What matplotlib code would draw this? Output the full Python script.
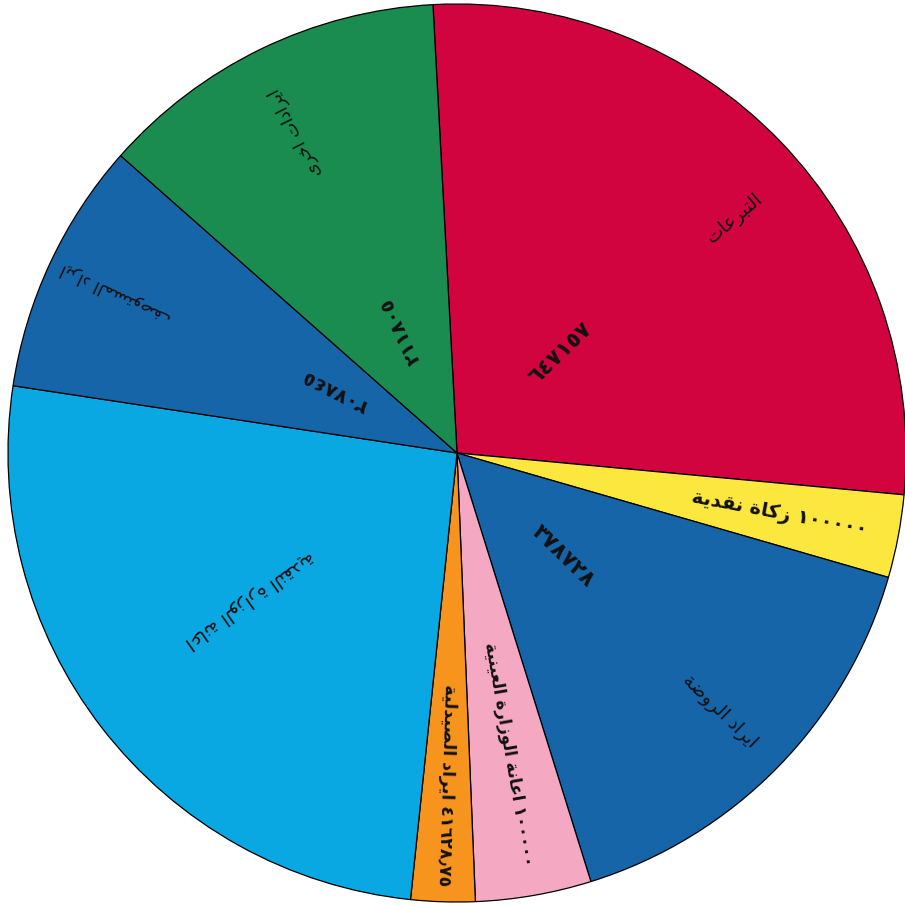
import re
import matplotlib
matplotlib.use("Agg")
import matplotlib.pyplot as plt
import numpy as np

# ---------------- data ----------------
names = ["التبرعات", "زكاة نقدية", "ايراد الروضة", "اعانة الوزارة العينية",
         "ايراد الصيدلية", "اعانة الوزارة النقدية", "ايراد المستوصف", "ايرادات اخرى"]
value_labels = ["٦٤٧١٥٧", "١٠٠٠٠٠", "٣٧٨٧٢٨", "١٠٠٠٠٠", "٤١٦٢٨٫٧٥", "", "٢٠٧٨٤٥", "٢١١٨٠٥"]
# slice sizes as drawn
sizes = [656000, 71600, 377000, 100000, 55300, 617700, 219000, 303000]
colors = ["#D2043F", "#FCE73E", "#1765A9", "#F5A8C2", "#F7941E",
          "#0AA8E2", "#1765A9", "#1A8C4F"]

# ---------------- minimal Arabic shaping ----------------
FORMS = {
    'ا': (0xFE8D, 0xFE8E, None, None), 'أ': (0xFE83, 0xFE84, None, None),
    'إ': (0xFE87, 0xFE88, None, None), 'آ': (0xFE81, 0xFE82, None, None),
    'ب': (0xFE8F, 0xFE90, 0xFE91, 0xFE92), 'ة': (0xFE93, 0xFE94, None, None),
    'ت': (0xFE95, 0xFE96, 0xFE97, 0xFE98), 'ث': (0xFE99, 0xFE9A, 0xFE9B, 0xFE9C),
    'ج': (0xFE9D, 0xFE9E, 0xFE9F, 0xFEA0), 'ح': (0xFEA1, 0xFEA2, 0xFEA3, 0xFEA4),
    'خ': (0xFEA5, 0xFEA6, 0xFEA7, 0xFEA8), 'د': (0xFEA9, 0xFEAA, None, None),
    'ذ': (0xFEAB, 0xFEAC, None, None), 'ر': (0xFEAD, 0xFEAE, None, None),
    'ز': (0xFEAF, 0xFEB0, None, None), 'س': (0xFEB1, 0xFEB2, 0xFEB3, 0xFEB4),
    'ش': (0xFEB5, 0xFEB6, 0xFEB7, 0xFEB8), 'ص': (0xFEB9, 0xFEBA, 0xFEBB, 0xFEBC),
    'ض': (0xFEBD, 0xFEBE, 0xFEBF, 0xFEC0), 'ط': (0xFEC1, 0xFEC2, 0xFEC3, 0xFEC4),
    'ظ': (0xFEC5, 0xFEC6, 0xFEC7, 0xFEC8), 'ع': (0xFEC9, 0xFECA, 0xFECB, 0xFECC),
    'غ': (0xFECD, 0xFECE, 0xFECF, 0xFED0), 'ف': (0xFED1, 0xFED2, 0xFED3, 0xFED4),
    'ق': (0xFED5, 0xFED6, 0xFED7, 0xFED8), 'ك': (0xFED9, 0xFEDA, 0xFEDB, 0xFEDC),
    'ل': (0xFEDD, 0xFEDE, 0xFEDF, 0xFEE0), 'م': (0xFEE1, 0xFEE2, 0xFEE3, 0xFEE4),
    'ن': (0xFEE5, 0xFEE6, 0xFEE7, 0xFEE8), 'ه': (0xFEE9, 0xFEEA, 0xFEEB, 0xFEEC),
    'و': (0xFEED, 0xFEEE, None, None), 'ى': (0xFEEF, 0xFEF0, None, None),
    'ي': (0xFEF1, 0xFEF2, 0xFEF3, 0xFEF4),
}
LAMALEF = {'ا': (0xFEFB, 0xFEFC), 'أ': (0xFEF7, 0xFEF8),
           'إ': (0xFEF9, 0xFEFA), 'آ': (0xFEF5, 0xFEF6)}


def shape(s):
    out = []
    i = 0
    while i < len(s):
        c = s[i]
        if c not in FORMS:
            out.append(c)
            i += 1
            continue
        prev = s[i - 1] if i > 0 else None
        nxt = s[i + 1] if i + 1 < len(s) else None
        jp = prev in FORMS and FORMS[prev][2] is not None
        if c == 'ل' and nxt in LAMALEF:
            out.append(chr(LAMALEF[nxt][1] if jp else LAMALEF[nxt][0]))
            i += 2
            continue
        jn = FORMS[c][2] is not None and nxt in FORMS
        iso, fin, ini, med = FORMS[c]
        g = med if (jp and jn) else fin if jp else ini if jn else iso
        out.append(chr(g))
        i += 1
    return "".join(out)


def visual(s):
    t = shape(s)[::-1]
    return re.sub(r'[\u0660-\u0669\u066B\.0-9]+', lambda m: m.group(0)[::-1], t)


# ---------------- figure ----------------
plt.rcParams['font.family'] = ['DejaVu Sans']
fig = plt.figure(figsize=(9.05, 9.06), dpi=100)
ax = fig.add_axes([0, 0, 1, 1])
R = 449.0

wedges, _ = ax.pie(sizes, colors=colors, startangle=93.07, counterclock=False,
                   radius=1.0, center=(0, 0),
                   wedgeprops=dict(edgecolor='black', linewidth=0.9))
ax.set_xlim(-457 / R, (905 - 457) / R)
ax.set_ylim(-(906 - 453) / R, 453 / R)
ax.set_aspect('auto')
ax.axis('off')


def put(text, ang, r, size, weight='normal'):
    a = np.deg2rad(ang)
    ax.text(r * np.cos(a), r * np.sin(a), visual(text), rotation=ang,
            rotation_mode='anchor', ha='center', va='center',
            fontsize=size, fontweight=weight, color='#111111')


mids = [(w.theta1 + w.theta2) / 2 for w in wedges]

# red: donations
put(value_labels[0], mids[0], 0.32, 15.5, 'bold')
put(names[0], mids[0] - 3.5, 0.81, 13.5)
# yellow: single combined label
put(value_labels[1] + " " + names[1], mids[1], 0.73, 14, 'bold')
# kindergarten
put(value_labels[2], mids[2], 0.33, 15.5, 'bold')
put(names[2], mids[2], 0.82, 13.5)
# pink: ministry in-kind
put(value_labels[3] + " " + names[3], mids[3], 0.68, 12, 'bold')
# orange: pharmacy
put(value_labels[4] + " " + names[4], mids[4], 0.74, 12.5, 'bold')
# light blue: ministry cash
put(names[5], mids[5] - 2.5, 0.565, 13.5)
# dark blue (left)
put(value_labels[6], mids[6] - 2.0, 0.305, 14, 'bold')
put(names[6], mids[6], 0.84, 12.5)
# green
put(value_labels[7], mids[7] - 1.0, 0.30, 14, 'bold')
put(names[7], mids[7] + 1.0, 0.80, 12.5)

fig.savefig("out.png", dpi=100, facecolor='white')
